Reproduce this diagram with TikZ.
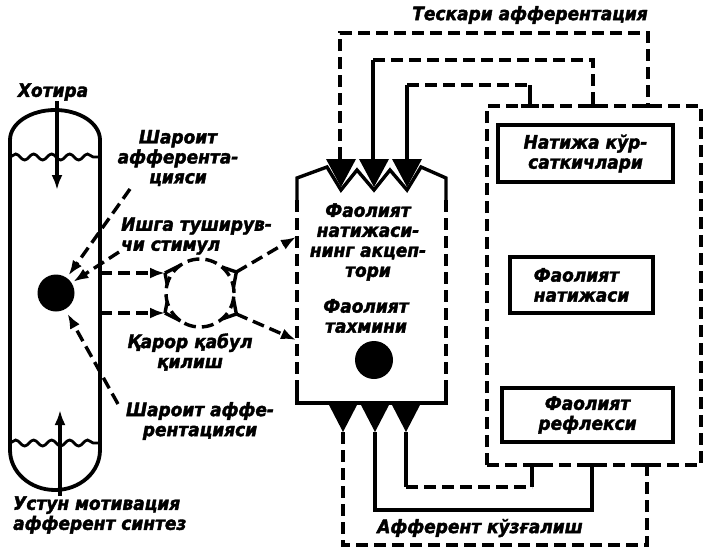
\documentclass[tikz,border=0pt]{standalone}
\usepackage{fontspec}
\setmainfont{DejaVu Sans}
\newfontfamily\lblfont{DejaVu Sans}[FakeStretch=0.92, FakeBold=2]
\usetikzlibrary{arrows.meta,calc,decorations.pathmorphing}
\begin{document}
\begin{tikzpicture}[x=1pt,y=-1pt,
  lw/.style={line width=3.4pt},
  dsh/.style={line width=3.4pt, dash pattern=on 12pt off 6pt},
  arr/.style={-{Latex[length=15pt,width=11pt]}},
  lbl/.style={font=\lblfont\bfseries\itshape\fontsize{18.5}{20}\selectfont, inner sep=0pt},
  tbox/.style={draw, line width=3.2pt, inner sep=0pt, font=\lblfont\bfseries\itshape\fontsize{18.5}{20}\selectfont},
  dot/.style={circle, fill=black, inner sep=0pt}
]
\useasboundingbox (0,0) rectangle (706,550);

% ---- left capsule
\draw[line width=3.8pt] (10,140) -- (10,450)
  arc[start angle=180,end angle=0,x radius=45,y radius=40] -- (100,140)
  arc[start angle=0,end angle=-180,x radius=45,y radius=30] -- cycle;
\draw[line width=2.8pt, decorate, decoration={snake,segment length=18pt,amplitude=3pt}] (10,157) -- (100,157);
\draw[line width=2.8pt, decorate, decoration={snake,segment length=18pt,amplitude=3pt}] (10,443) -- (100,443);

\node[lbl] (hot) at (53,92) {Хотира};
\coordinate (hotE) at (57,190);
\draw[lw,arr] (hot.south -| hotE) -- (hotE);

\node[lbl, align=left, anchor=west] (ust) at (13,515) {Устун мотивация\\афферент синтез};
\coordinate (ustE) at (60,410);
\draw[lw,arr] (ust.north -| ustE) -- (ustE);

\node[dot, minimum size=37pt] (dc) at (56,293) {};

% ---- labels left
\node[lbl, align=center] (sh1) at (178,158) {Шароит\\афферента-\\цияси};
\node[lbl, align=left, anchor=west] (ish) at (121,236) {Ишга туширув-\\чи стимул};
\node[lbl, align=center] (qar) at (190,352) {Қарор қабул\\қилиш};
\node[lbl, align=center] (sh2) at (200,421) {Шароит аффе-\\рентацияси};

\coordinate (a1s) at (130,189);
\coordinate (a2s) at (119,252);
\coordinate (a3s) at (118,404);
\draw[dsh,arr,shorten >=3pt] (a1s) -- (dc);
\draw[dsh,arr,shorten >=2pt] (a2s) -- (dc);
\draw[dsh,arr,shorten >=5pt] (a3s) -- (dc);

% ---- decision circle
\node[circle, draw, dsh, minimum size=68pt, inner sep=0pt] (qc) at (200,293) {};
\coordinate (ji1) at (165,273);
\coordinate (ji2) at (165,313);
\coordinate (jo1) at ($(qc.center)+(-30:42)$);
\coordinate (jo2) at ($(qc.center)+(30:42)$);
\coordinate (hs1) at (100,273);
\coordinate (hs2) at (100,313);
\draw[dsh,arr] (hs1) -- (ji1);
\draw[dsh,arr] (hs2) -- (ji2);
\draw[lw] (ji1) -- ($(qc.center)+(-165:34)$);
\draw[lw] (ji1) -- ($(qc.center)+(-125:34)$);
\draw[lw] (ji2) -- ($(qc.center)+(165:34)$);
\draw[lw] (ji2) -- ($(qc.center)+(125:34)$);
\draw[lw] (jo1) -- ($(qc.center)+(-10:34)$);
\draw[lw] (jo1) -- ($(qc.center)+(-50:34)$);
\draw[lw] (jo2) -- ($(qc.center)+(10:34)$);
\draw[lw] (jo2) -- ($(qc.center)+(50:34)$);
\coordinate (ak1) at (296,237);
\coordinate (ak2) at (296,340);
\draw[dsh,arr] (jo1) -- (ak1);
\draw[dsh,arr] (jo2) -- (ak2);

% ---- central box
\foreach \c in {341,374,407} \fill (\c-15,159) -- (\c+15,159) -- (\c,187) -- cycle;
\draw[lw, line join=miter] (297,200) -- (297,178) -- (327,167) -- (341,190) -- (357,170) -- (374,190)
  -- (390,170) -- (407,190) -- (421,167) -- (446,178) -- (446,200);
\draw[dsh] (297,200) -- (297,385);
\draw[dsh] (446,200) -- (446,385);
\draw[lw] (297,385) -- (297,403) -- (446,403) -- (446,385);
\foreach \c in {343,375,406} \fill (\c-15,403) -- (\c+15,403) -- (\c,432) -- cycle;

\node[lbl, align=center] (akc) at (368,242) {Фаолият\\натижаси-\\нинг акцеп-\\тори};
\node[lbl, align=center] (tax) at (366,316) {Фаолият\\тахмини};
\node[dot, minimum size=38pt] (tc) at (374,360) {};

% ---- right boxes
\node[tbox, minimum width=175pt, minimum height=57pt, align=center] (b1) at (585.5,153.5) {Натижа кўр-\\саткичлари};
\node[tbox, minimum width=143pt, minimum height=56pt, align=left] (b2) at (581.5,285) {Фаолият\\натижаси};
\node[tbox, minimum width=171pt, minimum height=54pt, align=center] (b3) at (587.5,415) {Фаолият\\рефлекси};

\node[lbl] (tesk) at (530,15) {Тескари афферентация};
\node[lbl] (aff) at (480,528) {Афферент кўзғалиш};

% ---- big dashed frame
\draw[dsh] (487,465) -- (487,106) -- (701,106) -- (701,465) -- cycle;

% ---- top feedback loops
\coordinate (tt1) at (340,159); \coordinate (tt2) at (373,159); \coordinate (tt3) at (407,159);
\coordinate (jt1) at (530,106); \coordinate (jt2) at (593,106); \coordinate (jt3) at (648,106);
\draw[dsh] (tt1) -- (340,33) -- (648,33) -- (jt3);
\draw[lw] (tt2) -- (373,60);
\draw[dsh] (373,60) -- (593,60) -- (jt2);
\draw[lw] (tt3) -- (407,85);
\draw[dsh] (407,85) -- (530,85);
\draw[lw] (530,85) -- (jt1);

% ---- bottom loops
\coordinate (bt1) at (343,432); \coordinate (bt2) at (375,432); \coordinate (bt3) at (406,432);
\coordinate (jb1) at (532,465); \coordinate (jb2) at (592,465); \coordinate (jb3) at (647,465);
\draw[dsh] (bt1) -- (343,545) -- (647,545) -- (jb3);
\draw[lw] (bt2) -- (375,510) -- (592,510) -- (jb2);
\draw[lw] (bt3) -- (406,487);
\draw[dsh] (406,487) -- (532,487);
\draw[lw] (532,487) -- (jb1);

\foreach \p in {jt1,jt2,jt3,jb1,jb2,jb3} \draw[lw] ($(\p)+(-9,0)$) -- ($(\p)+(9,0)$);
\end{tikzpicture}
\end{document}
